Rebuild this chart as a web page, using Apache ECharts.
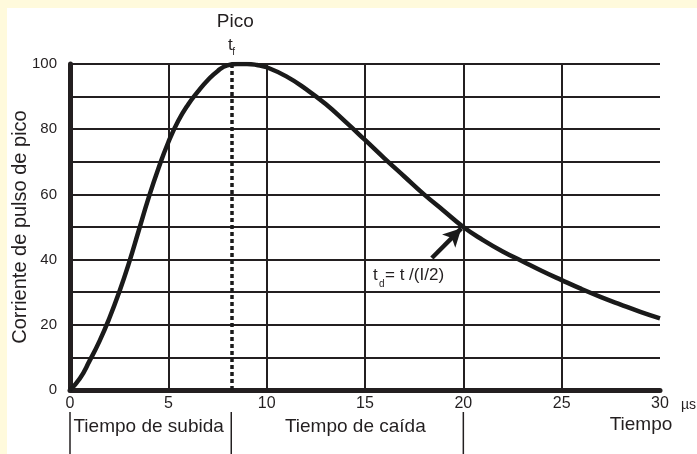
<!DOCTYPE html>
<html>
<head>
<meta charset="utf-8">
<script src="https://cdn.jsdelivr.net/npm/echarts@6/dist/echarts.min.js"></script>
<style>
  html, body { margin: 0; padding: 0; background: #fff; }
  #chart { width: 697px; height: 454px; }
</style>
</head>
<body>
<div id="chart"></div>
<script>
// time in microseconds and peak-normalised current (%)
const timeUs = [0, 0.5, 1, 1.5, 2, 2.5, 3, 3.5, 4, 4.5, 5, 5.5, 6, 6.5, 7, 7.5, 8, 8.5, 9, 9.5, 10,
  11, 12, 13, 14, 15, 16, 17, 18, 19, 20, 21, 22, 23, 24, 25, 26, 27, 28, 29, 30];
const current = [0, 3.5, 9, 15, 22, 30, 39, 49, 59, 68, 76, 82.5, 87.5, 91.5, 95, 97.8, 99.6, 100, 100, 99.7, 99,
  96.2, 92.3, 87.7, 82.3, 76.7, 71, 65.5, 60, 55, 50, 46, 42.5, 39.5, 36.5, 33.7, 31, 28.5, 26.2, 24, 22];

const peakTime = 8.2;   // t_f
const halfTime = 20;    // t_d
const arrowFrom = [18.4, 40.5];
const arrowTo = [19.9, 49.6];

const ink = '#231f20';
const font = 'Liberation Sans, Arial, sans-serif';

var chart = echarts.init(document.getElementById('chart'));

var option = {
  backgroundColor: '#fff',
  animation: false,
  grid: { left: 70, right: 37, top: 64, bottom: 64, outerBoundsMode: 'none' },
  xAxis: {
    type: 'value',
    min: 0,
    max: 30,
    interval: 5,
    axisLine: { show: true, onZero: false, lineStyle: { color: ink, width: 5 } },
    axisTick: { show: false },
    axisLabel: { color: ink, fontSize: 16, fontFamily: font, margin: 6 },
    splitLine: { show: true, showMinLine: false, showMaxLine: false, lineStyle: { color: ink, width: 2 } }
  },
  yAxis: {
    type: 'value',
    min: 0,
    max: 100,
    interval: 10,
    axisLine: { show: true, lineStyle: { color: ink, width: 5 } },
    axisTick: { show: false },
    axisLabel: {
      color: ink, fontSize: 15, fontFamily: font, margin: 13,
      formatter: function (v) { return v % 20 === 0 ? v : ''; }
    },
    splitLine: { show: true, lineStyle: { color: ink, width: 2 } }
  },
  series: [
    {
      // pulse curve
      type: 'line',
      data: timeUs.map(function (t, i) { return [t, current[i]]; }),
      smooth: 0.5,
      symbol: 'none',
      lineStyle: { color: '#1a1a1a', width: 4.5 },
      z: 5,
      markLine: {
        silent: true,
        symbol: 'none',
        label: { show: false },
        lineStyle: { color: '#1a1a1a', type: [4, 3], width: 3.5 },
        data: [[{ coord: [peakTime, 0] }, { coord: [peakTime, 100] }]]
      }
    },
    {
      // arrow pointing at the half value
      type: 'line',
      data: [],
      markLine: {
        silent: true,
        symbol: ['none', 'arrow'],
        symbolSize: [14, 18],
        label: { show: false },
        lineStyle: { color: '#1a1a1a', type: 'solid', width: 4.5 },
        data: [[{ coord: arrowFrom }, { coord: arrowTo }]]
      }
    }
  ]
};
option && chart.setOption(option);

// labels and separators below the axis, placed from the axis scale
var xp0 = chart.convertToPixel({ xAxisIndex: 0 }, 0);
var xpPeak = chart.convertToPixel({ xAxisIndex: 0 }, peakTime);
var xpHalf = chart.convertToPixel({ xAxisIndex: 0 }, halfTime);
var ypMid = chart.convertToPixel({ yAxisIndex: 0 }, 50);

function txt(x, y, text, size, align) {
  return {
    type: 'text', x: x, y: y, z: 10,
    style: { text: text, fill: ink, font: size + 'px ' + font, align: align || 'center', verticalAlign: 'middle' }
  };
}
function sep(x) {
  return { type: 'line', z: 10, shape: { x1: x, y1: 412, x2: x, y2: 454 }, style: { stroke: ink, lineWidth: 1.5 } };
}

var yName = txt(20, ypMid, 'Corriente de pulso de pico', 20);
yName.rotation = Math.PI / 2;

chart.setOption({
  graphic: [
    { type: 'rect', z: -10, shape: { x: 0, y: 0, width: 697, height: 8 }, style: { fill: '#fffadc' } },
    { type: 'rect', z: -10, shape: { x: 0, y: 0, width: 7, height: 454 }, style: { fill: '#fffadc' } },
    sep(xp0), sep(xpPeak), sep(xpHalf),
    yName,
    txt((xp0 + xpPeak) / 2 - 2, 427, 'Tiempo de subida', 19),
    txt((xpPeak + xpHalf) / 2 + 8, 427, 'Tiempo de caída', 19),
    txt(641, 425, 'Tiempo', 19),
    txt(681, 405, 'µs', 14, 'left'),
    txt(xpPeak + 4, 22, 'Pico', 19),
    txt(xpPeak - 1, 45, 't', 17),
    txt(xpPeak + 1, 52, 'f', 10, 'left'),
    txt(373, 275, 't', 17, 'left'),
    txt(379, 284, 'd', 10, 'left'),
    txt(385, 275, '= t /(I/2)', 17, 'left')
  ]
});
</script>
</body>
</html>
